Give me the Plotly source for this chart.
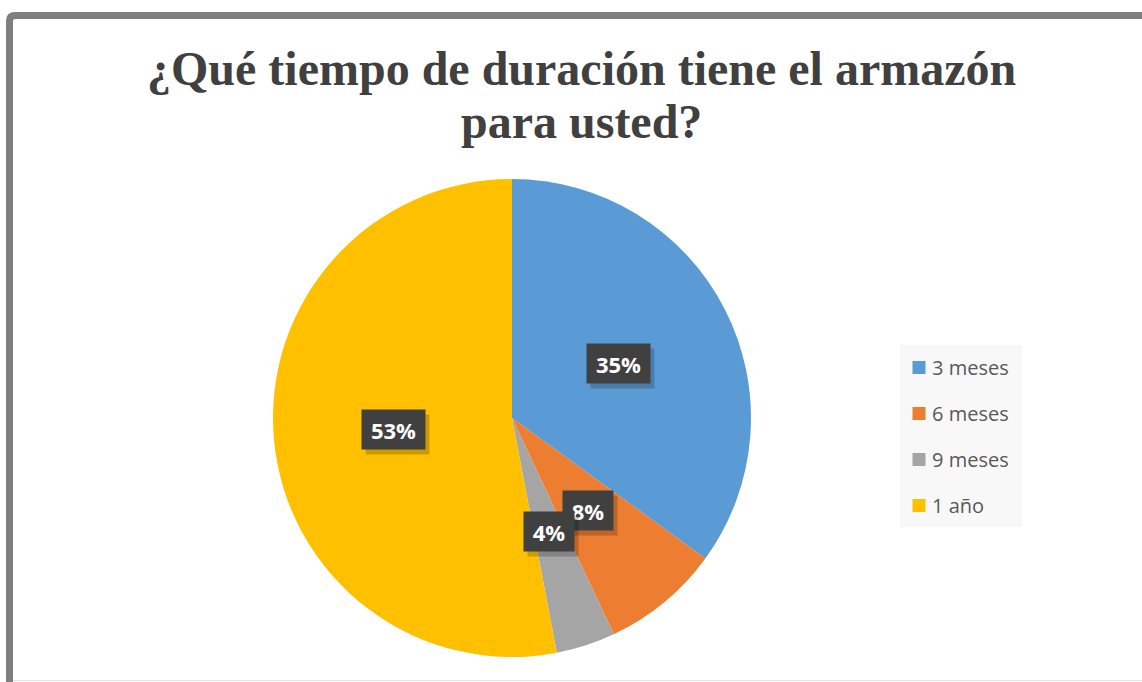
import numpy as np
import plotly.graph_objects as go

# Survey answers: perceived lifetime of the frame
categories = ["3 meses", "6 meses", "9 meses", "1 año"]
percentages = [35, 8, 4, 53]
slice_colors = ["#5B9BD5", "#ED7D31", "#A5A5A5", "#FFC000"]

title_lines = ["¿Qué tiempo de duración tiene el armazón", "para usted?"]

W, H = 1142, 682


def px(x):
    return x / W


def py(y):
    return 1 - y / H


# pie geometry in pixels
cx, cy, R = 512, 418, 239

fig = go.Figure()
fig.add_trace(go.Pie(
    labels=categories,
    values=percentages,
    marker=dict(colors=slice_colors, line=dict(width=0)),
    sort=False,
    direction="clockwise",
    rotation=0,
    textinfo="none",
    hoverinfo="label+percent",
    showlegend=False,
    domain=dict(x=[px(cx - R), px(cx + R)], y=[py(cy + R), py(cy - R)]),
))

annotations = []
shapes = []

# title, one annotation per line for tight line spacing
for text, yc in zip(title_lines, [68, 121]):
    annotations.append(dict(
        x=px(581), y=py(yc), xref="paper", yref="paper",
        text=f"<b>{text}</b>", showarrow=False,
        xanchor="center", yanchor="middle",
        font=dict(family="Liberation Serif", size=48, color="#404040"),
    ))

# data labels: dark boxes at half radius on each slice's mid angle
vals = np.array(percentages, dtype=float)
frac = vals / vals.sum()
mid = (np.cumsum(frac) - frac / 2) * 2 * np.pi
for v, a in zip(percentages, mid):
    lx = cx + 0.5 * R * np.sin(a)
    ly = cy - 0.5 * R * np.cos(a)
    label = f"{v}%"
    bw = 13 * len(label) + 24
    bh = 39
    # soft drop shadow
    annotations.append(dict(
        x=px(lx + 4), y=py(ly + 5), xref="paper", yref="paper",
        xanchor="center", yanchor="middle",
        text="", showarrow=False, width=bw, height=bh,
        bgcolor="rgba(0,0,0,0.2)", borderpad=0,
    ))
    annotations.append(dict(
        x=px(lx), y=py(ly), xref="paper", yref="paper",
        xanchor="center", yanchor="middle",
        text=f"<b>{label}</b>", showarrow=False, width=bw, height=bh,
        bgcolor="#404040", borderpad=0,
        font=dict(family="Open Sans", size=22, color="white"),
    ))

# legend panel
shapes.append(dict(
    type="rect", xref="paper", yref="paper",
    x0=px(900), x1=px(1022), y0=py(527), y1=py(345),
    fillcolor="#F8F8F8", line=dict(width=0), layer="below",
))
for i, (name, col) in enumerate(zip(categories, slice_colors)):
    yc = 367.5 + 46 * i
    shapes.append(dict(
        type="rect", xref="paper", yref="paper",
        x0=px(912.5), x1=px(925.5), y0=py(yc + 6.5), y1=py(yc - 6.5),
        fillcolor=col, line=dict(width=0),
    ))
    annotations.append(dict(
        x=px(930), y=py(yc), xref="paper", yref="paper",
        text=name, showarrow=False, xanchor="left", yanchor="middle",
        font=dict(family="Open Sans", size=20, color="#595959"),
    ))

# outer frame (gray, cut off on the right and bottom)
shapes.append(dict(
    type="path", xref="paper", yref="paper",
    path=(f"M {px(9.5)},{py(700)} L {px(9.5)},{py(21)} "
          f"Q {px(9.5)},{py(15.5)} {px(15)},{py(15.5)} L {px(1160)},{py(15.5)}"),
    line=dict(color="#7F7F7F", width=7),
))
shapes.append(dict(
    type="line", xref="paper", yref="paper",
    x0=px(13), x1=px(1160), y0=py(680.5), y1=py(680.5),
    line=dict(color="#E3E3E3", width=1),
))

fig.update_layout(
    width=W, height=H,
    margin=dict(l=0, r=0, t=0, b=0),
    paper_bgcolor="white",
    plot_bgcolor="white",
    annotations=annotations,
    shapes=shapes,
)

fig.write_html("out.html")
